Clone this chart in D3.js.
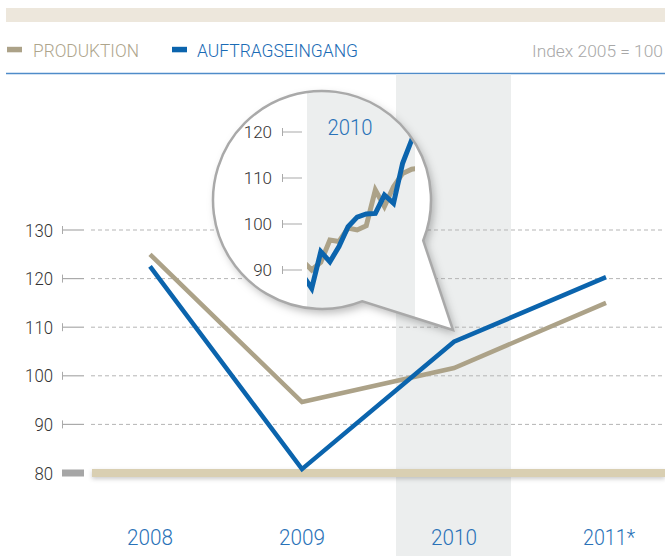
<!DOCTYPE html>
<html><head><meta charset="utf-8">
<script src="https://cdn.jsdelivr.net/npm/d3@7/dist/d3.min.js"></script>
<style>body{margin:0;background:#fff}svg{display:block}text{font-family:"Liberation Sans Narrow",Roboto,"DejaVu Sans Condensed",sans-serif;}</style>
</head><body><svg id="c" width="665" height="556"></svg>
<script>
// ---- data ----
const years = ["2008", "2009", "2010", "2011*"];
const produktion = [125, 94.6, 101.6, 115];
const auftrag = [122.5, 80.8, 107, 120.3];
const yTicks = [80, 90, 100, 110, 120, 130];
const zoomTicks = [90, 100, 110, 120];
const zoomMonthIdx = [-1, 0, 1, 2, 3, 4, 5, 6, 7, 8, 9, 10, 11, 12];
const zoomProduktion = [92, 90, 91.7, 96.5, 96.2, 99.1, 98.7, 99.6, 107.4, 103.8, 108.1, 111.0, 111.9, 112.2];
const zoomAuftrag = [88.9, 86.0, 94.0, 91.8, 95.1, 99.4, 101.5, 102.2, 102.3, 106.3, 104.5, 113.2, 118.3, 123];
const legendItems = ["PRODUKTION", "AUFTRAGSEINGANG"];
const highlightYear = "2010";

const BEIGE = "#aca288", BLUE = "#0b64ad";
const svg = d3.select("#c");
const defs = svg.append("defs");
const f = defs.append("filter").attr("id","sh").attr("x","-20%").attr("y","-20%").attr("width","150%").attr("height","150%");
f.append("feDropShadow").attr("dx",3).attr("dy",4).attr("stdDeviation",4).attr("flood-color","#000").attr("flood-opacity",0.28);
const f2 = defs.append("filter").attr("id","sh2").attr("x","-5%").attr("y","-100%").attr("width","110%").attr("height","400%");
f2.append("feDropShadow").attr("dx",0).attr("dy",2).attr("stdDeviation",2).attr("flood-color","#000").attr("flood-opacity",0.2);

// scales
const x = d3.scalePoint().domain(years).range([150, 606]);
const y = d3.scaleLinear().domain([80, 130]).range([473, 230]);

// top bar
svg.append("rect").attr("x",6).attr("y",8).attr("width",659).attr("height",14).attr("fill","#ede7dc");
// legend
const lg = svg.append("g");
[[BEIGE,"#aea58c",7,33,106],[BLUE,"#1a6bb5",172,197,161]].forEach((d,i)=>{
  lg.append("rect").attr("x",d[2]).attr("y",46.8).attr("width",15).attr("height",5.5).attr("fill",d[0]);
  lg.append("text").attr("x",d[3]).attr("y",56.5).attr("font-size",19).attr("font-weight",300).attr("fill",d[1])
    .attr("textLength",d[4]).attr("lengthAdjust","spacingAndGlyphs").text(legendItems[i]);
});
svg.append("text").attr("x",663).attr("y",56.5).attr("text-anchor","end").attr("font-size",17).attr("font-weight",300)
  .attr("fill","#a8a8a8").attr("textLength",131).attr("lengthAdjust","spacingAndGlyphs").text("Index 2005 = 100");
svg.append("line").attr("x1",6).attr("x2",665).attr("y1",73.5).attr("y2",73.5).attr("stroke","#4f8cc9").attr("stroke-width",1.5);

// highlight band
svg.append("rect").attr("x",x(highlightYear)-58).attr("y",74.5).attr("width",115).attr("height",556-74.5).attr("fill","#eceeee");

// grid + axis
const grid = svg.append("g");
yTicks.forEach(v=>{
  if(v!==80){
    grid.append("line").attr("x1",91).attr("x2",665).attr("y1",y(v)).attr("y2",y(v)).attr("stroke","#b5b5b5").attr("stroke-dasharray","4,3");
    grid.append("line").attr("x1",62).attr("x2",84).attr("y1",y(v)).attr("y2",y(v)).attr("stroke","#aaa").attr("stroke-width",1.2);
    grid.append("line").attr("x1",62.5).attr("x2",62.5).attr("y1",y(v)-4).attr("y2",y(v)+4).attr("stroke","#aaa").attr("stroke-width",1);
  } else {
    grid.append("rect").attr("x",62).attr("y",y(v)-3.5).attr("width",22).attr("height",7).attr("fill","#a6a6a6");
    grid.append("rect").attr("x",92).attr("y",y(v)-4).attr("width",573).attr("height",8).attr("fill","#d9cfb2").attr("filter","url(#sh2)");
  }
  grid.append("text").attr("x",53).attr("y",y(v)+6.5).attr("text-anchor","end").attr("font-size",18).attr("font-weight",300)
    .attr("fill","#333").attr("textLength",String(v).length*9.3).attr("lengthAdjust","spacingAndGlyphs").text(v);
});

// x labels
svg.append("g").selectAll("text").data(years).join("text")
  .attr("x",d=>x(d)+(d.endsWith("*")?3:0)).attr("y",544.5).attr("text-anchor","middle").attr("font-size",22).attr("font-weight",300)
  .attr("fill","#2a72b8").attr("textLength",d=>d.endsWith("*")?52:46).attr("lengthAdjust","spacingAndGlyphs").text(d=>d);

// main lines
const line = d3.line().x((d,i)=>x(years[i])).y(d=>y(d));
svg.append("path").datum(produktion).attr("d",line).attr("fill","none").attr("stroke",BEIGE).attr("stroke-width",4.5);
svg.append("path").datum(auftrag).attr("d",line).attr("fill","none").attr("stroke",BLUE).attr("stroke-width",4.5);

// magnifier
const cx = 322, cy = 200, r = 109;
const tip = [453, 330];
const a1 = Math.atan2(300-cy, 362-cx), a2 = Math.atan2(240-cy, 422-cx);
const p1 = [cx + r*Math.cos(a1), cy + r*Math.sin(a1)], p2 = [cx + r*Math.cos(a2), cy + r*Math.sin(a2)];
const shapeD = `M${p2[0]},${p2[1]} A${r},${r} 0 1 0 ${p1[0]},${p1[1]} L${tip[0]},${tip[1]} Z`;
defs.append("clipPath").attr("id","mag").append("path").attr("d",shapeD);
svg.append("path").attr("d",shapeD).attr("fill","#fff").attr("filter","url(#sh)");
const mg = svg.append("g").attr("clip-path","url(#mag)");
const zx = d3.scaleLinear().domain([0, 11]).range([311.7, 411.7]);
const zy = d3.scaleLinear().domain([90, 120]).range([270, 132]);
const zx0 = 307, zx1 = 415;
mg.append("rect").attr("x",zx0).attr("y",80).attr("width",zx1-zx0).attr("height",260).attr("fill","#eceeee");
defs.append("clipPath").attr("id","zb").append("rect").attr("x",zx0).attr("y",80).attr("width",zx1-zx0).attr("height",260);
const zg = mg.append("g").attr("clip-path","url(#zb)");
const zline = d3.line().x((d,i)=>zx(zoomMonthIdx[i])).y(d=>zy(d));
zg.append("path").datum(zoomProduktion).attr("d",zline).attr("fill","none").attr("stroke",BEIGE).attr("stroke-width",5);
zg.append("path").datum(zoomAuftrag).attr("d",zline).attr("fill","none").attr("stroke",BLUE).attr("stroke-width",5);
zoomTicks.forEach(v=>{
  mg.append("line").attr("x1",282).attr("x2",302).attr("y1",zy(v)).attr("y2",zy(v)).attr("stroke","#aaa").attr("stroke-width",1.2);
  mg.append("line").attr("x1",282.5).attr("x2",282.5).attr("y1",zy(v)-4).attr("y2",zy(v)+4).attr("stroke","#aaa").attr("stroke-width",1);
  mg.append("text").attr("x",272).attr("y",zy(v)+6).attr("text-anchor","end").attr("font-size",17).attr("font-weight",300).attr("fill","#333").text(v);
});
mg.append("text").attr("x",350).attr("y",135).attr("text-anchor","middle").attr("font-size",22).attr("font-weight",300).attr("fill","#2a72b8")
  .attr("textLength",45).attr("lengthAdjust","spacingAndGlyphs").text(highlightYear);
svg.append("path").attr("d",shapeD).attr("fill","none").attr("stroke","#a9a9a9").attr("stroke-width",2.5).attr("stroke-linejoin","miter");
</script></body></html>
